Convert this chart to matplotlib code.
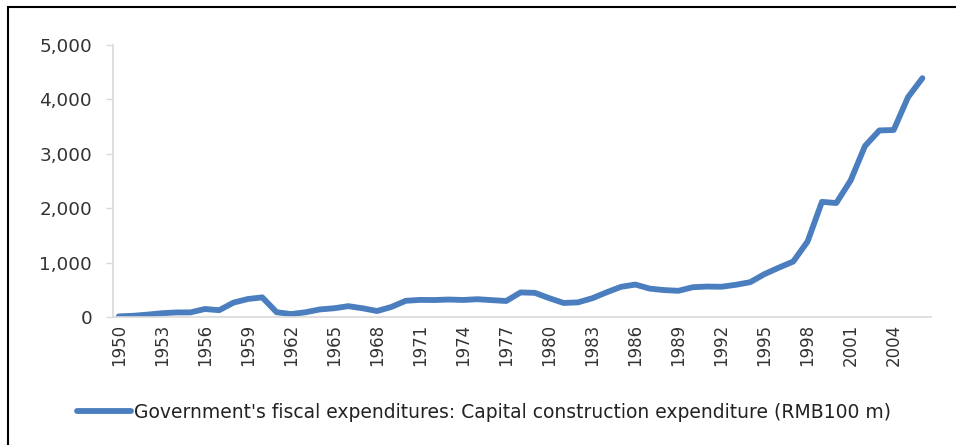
import matplotlib
matplotlib.use("Agg")
import matplotlib.pyplot as plt
from matplotlib.patches import Rectangle
from matplotlib.ticker import FuncFormatter

years = list(range(1950, 2007))
values = [11.34, 22.21, 43.56, 69.49, 83.74, 84.90, 146.73, 125.23, 264.64, 330.77,
          361.10, 88.23, 53.65, 86.10, 138.63, 160.71, 199.31, 160.0, 109.66, 185.0,
          298.0, 314.0, 312.0, 321.0, 313.0, 327.0, 310.0, 294.0, 451.92, 443.77,
          346.36, 257.55, 269.12, 344.98, 454.12, 554.56, 596.08, 521.64, 494.76, 481.70,
          547.39, 559.62, 555.90, 591.93, 639.72, 789.22, 907.44, 1019.50, 1387.74, 2116.57,
          2094.89, 2510.64, 3142.98, 3429.30, 3437.50, 4041.34, 4390.38]
tick_years = list(range(1950, 2005, 3))
series_label = "Government's fiscal expenditures: Capital construction expenditure (RMB100 m)"

plt.rcParams['font.family'] = ['DejaVu Sans']
W, H = 956, 445
fig = plt.figure(figsize=(W / 100, H / 100), dpi=100)

ax = fig.add_axes([113 / W, 1 - 317 / H, (931 - 113) / W, (317 - 45) / H])
line_color = '#4A7EBF'
ax.plot(years, values, color=line_color, lw=4.2, solid_joinstyle='round',
        solid_capstyle='round', label=series_label)

ax.set_xlim(1949.6, 2006.6)
ax.set_ylim(0, 5000)
ax.set_yticks(range(0, 5001, 1000))
ax.yaxis.set_major_formatter(FuncFormatter(lambda v, p: f"{int(v):,}"))
ax.set_xticks(tick_years)
ax.set_xticklabels([str(y) for y in tick_years], rotation=90)

for s in ['top', 'right']:
    ax.spines[s].set_visible(False)
for s in ['left', 'bottom']:
    ax.spines[s].set_color('#d9d9d9')
    ax.spines[s].set_linewidth(1.2)

ax.tick_params(axis='y', length=5, width=1, color='#d9d9d9', labelsize=13.2,
               labelcolor='#333333', pad=10)
ax.tick_params(axis='x', length=0, labelsize=12, labelcolor='#333333', pad=5)

leg = fig.legend(loc='center', bbox_to_anchor=(0.5 + 6 / W, 1 - 412 / H), frameon=False,
                 fontsize=13.5, handlelength=2.9, handletextpad=0.15)
for t in leg.get_texts():
    t.set_color('#222222')

# outer frame (cropped at right and bottom)
fig.patches.append(Rectangle((7.5 / W, -0.1), 1.2, 1.1 - 7.5 / H, transform=fig.transFigure,
                             fill=False, edgecolor='black', lw=1.5))

fig.savefig('out.png', dpi=100)
